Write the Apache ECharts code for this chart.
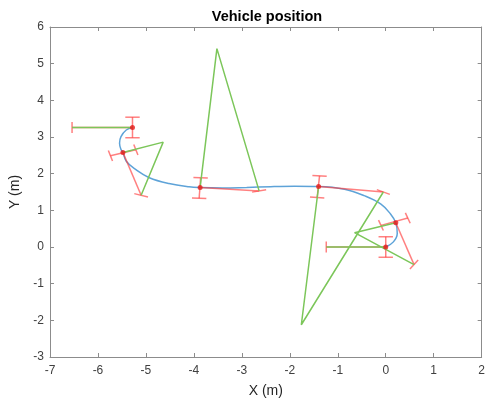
<!DOCTYPE html>
<html>
<head>
<meta charset="utf-8">
<script src="https://cdn.jsdelivr.net/npm/echarts@6/dist/echarts.min.js"></script>
<style>
html, body { margin: 0; padding: 0; background: #fff; }
#chart { width: 488px; height: 403px; }
</style>
</head>
<body>
<div id="chart"></div>
<script>
// vehicle positions (m)
var posX = [-5.28, -5.48, -3.87, -1.40, 0.21, 0.00];
var posY = [3.26, 2.58, 1.62, 1.65, 0.66, 0.00];
// end of heading line for each position
var headX = [-6.54, -5.10, -2.64, -0.05, 0.59, -1.24];
var headY = [3.26, 1.41, 1.53, 1.50, -0.48, 0.00];
// lateral error bar ends
var latX1 = [-5.28, -5.74, -3.86, -1.38, -0.10, 0.00];
var latY1 = [3.54, 2.49, 1.89, 1.94, 0.59, 0.28];
var latX2 = [-5.28, -5.21, -3.89, -1.43, 0.46, 0.00];
var latY2 = [2.98, 2.65, 1.33, 1.35, 0.79, -0.28];
// third corner of the green triangles (null = only a line)
var apexX = [null, -4.64, -3.52, -1.76, -0.65, null];
var apexY = [null, 2.86, 5.41, -2.12, 0.39, null];
// driven path
var pathX = [0.00, 0.16, 0.24, 0.21, 0.10, -0.10, -0.45, -0.86, -1.40, -1.90, -2.40, -2.90, -3.40, -3.87, -4.10, -4.52, -4.93, -5.21, -5.41, -5.48, -5.52, -5.55, -5.52, -5.41, -5.28];
var pathY = [0.00, 0.14, 0.37, 0.66, 0.90, 1.17, 1.40, 1.575, 1.648, 1.655, 1.645, 1.625, 1.61, 1.62, 1.64, 1.73, 1.89, 2.11, 2.34, 2.58, 2.66, 2.83, 3.01, 3.19, 3.26];

var CAP = 0.15; // half length of the bar caps, data units
var RED = 'rgba(255,60,60,0.65)';
var GREEN = '#7cc65a';
var AXIS = '#8c8c8c';
var FONT = 'Liberation Sans';

var pathData = [];
for (var i = 0; i < pathX.length; i++) {
    pathData.push([pathX[i], pathY[i]]);
}

var posData = [];
var barData = [];
var greenSeries = [];
for (var i = 0; i < posX.length; i++) {
    posData.push([posX[i], posY[i]]);
    // lateral bar: caps on both ends, square to the bar
    barData.push([latX1[i], latY1[i], latX2[i], latY2[i], 2, latX1[i], latY1[i]]);
    // heading bar: cap at the far end, square to the green edge that meets it
    var hasApex = apexX[i] !== null;
    barData.push([posX[i], posY[i], headX[i], headY[i], 1,
        hasApex ? apexX[i] : posX[i], hasApex ? apexY[i] : posY[i]]);
    var pts = [[posX[i], posY[i]]];
    if (hasApex) pts.push([apexX[i], apexY[i]]);
    pts.push([headX[i], headY[i]]);
    greenSeries.push({
        type: 'line',
        data: pts,
        showSymbol: false,
        silent: true,
        z: 4,
        lineStyle: { color: GREEN, width: 1.5 }
    });
}

function seg(api, a, b) {
    var p = api.coord(a), q = api.coord(b);
    return {
        type: 'line',
        shape: { x1: p[0], y1: p[1], x2: q[0], y2: q[1] },
        style: { stroke: RED, lineWidth: 1.5 }
    };
}

function renderBar(params, api) {
    var x1 = api.value(0), y1 = api.value(1), x2 = api.value(2), y2 = api.value(3);
    var rx = api.value(5), ry = api.value(6);
    var dx = x2 - rx, dy = y2 - ry;
    var len = Math.sqrt(dx * dx + dy * dy);
    var nx = -dy / len * CAP, ny = dx / len * CAP;
    var kids = [
        seg(api, [x1, y1], [x2, y2]),
        seg(api, [x2 + nx, y2 + ny], [x2 - nx, y2 - ny])
    ];
    if (api.value(4) === 2) {
        kids.push(seg(api, [x1 + nx, y1 + ny], [x1 - nx, y1 - ny]));
    }
    return { type: 'group', children: kids };
}

var myChart = echarts.init(document.getElementById('chart'));
var option = {
    animation: false,
    backgroundColor: '#fff',
    title: {
        text: 'Vehicle position',
        left: 267,
        textAlign: 'center',
        top: 9,
        padding: 0,
        textStyle: { fontFamily: FONT, fontSize: 14.5, fontWeight: 'bold', color: '#000' }
    },
    grid: { left: 50, right: 3, top: 27, bottom: 41 },
    xAxis: [
        {
            type: 'value', min: -7, max: 2, interval: 1,
            name: 'X (m)', nameLocation: 'middle', nameGap: 27,
            nameTextStyle: { fontFamily: FONT, fontSize: 14, color: '#262626' },
            axisLine: { onZero: false, lineStyle: { color: AXIS } },
            axisTick: { inside: true, length: 4, lineStyle: { color: AXIS } },
            axisLabel: { fontFamily: FONT, fontSize: 12, color: '#404040', margin: 8 },
            splitLine: { show: false }
        },
        {
            type: 'value', min: -7, max: 2, interval: 1, position: 'top',
            axisLine: { onZero: false, lineStyle: { color: AXIS } },
            axisTick: { inside: true, length: 4, lineStyle: { color: AXIS } },
            axisLabel: { show: false },
            splitLine: { show: false }
        }
    ],
    yAxis: [
        {
            type: 'value', min: -3, max: 6, interval: 1,
            name: 'Y (m)', nameLocation: 'middle', nameGap: 22,
            nameTextStyle: { fontFamily: FONT, fontSize: 14, color: '#262626' },
            axisLine: { onZero: false, lineStyle: { color: AXIS } },
            axisTick: { inside: true, length: 4, lineStyle: { color: AXIS } },
            axisLabel: { fontFamily: FONT, fontSize: 12, color: '#404040', margin: 6 },
            splitLine: { show: false }
        },
        {
            type: 'value', min: -3, max: 6, interval: 1, position: 'right',
            axisLine: { onZero: false, lineStyle: { color: AXIS } },
            axisTick: { inside: true, length: 4, lineStyle: { color: AXIS } },
            axisLabel: { show: false },
            splitLine: { show: false }
        }
    ],
    series: [
        {
            type: 'line',
            data: pathData,
            smooth: 0.4,
            showSymbol: false,
            silent: true,
            z: 2,
            lineStyle: { color: '#5ea3d8', width: 1.5 }
        },
        {
            type: 'custom',
            data: barData,
            renderItem: renderBar,
            encode: { x: [0, 2], y: [1, 3] },
            silent: true,
            z: 3
        }
    ].concat(greenSeries).concat([
        {
            type: 'scatter',
            data: posData,
            symbolSize: 5,
            silent: true,
            z: 6,
            itemStyle: { color: '#e61a1a' }
        }
    ])
};
myChart.setOption(option);
</script>
</body>
</html>
